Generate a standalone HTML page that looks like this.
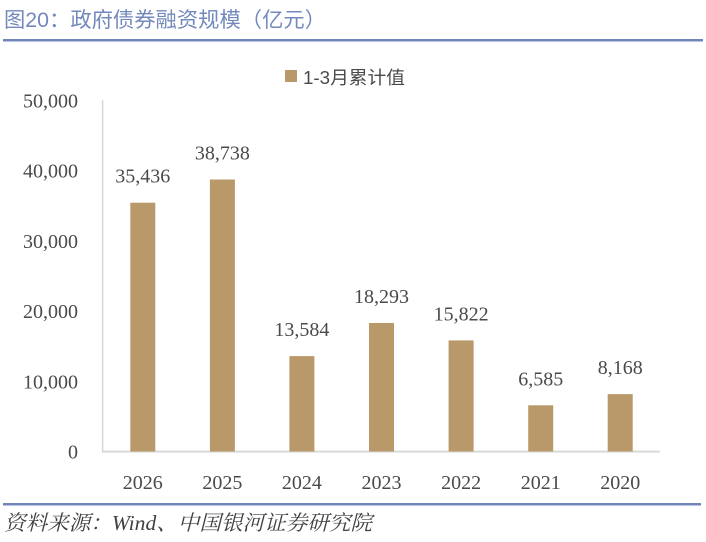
<!DOCTYPE html>
<html><head><meta charset="utf-8"><style>
html,body{margin:0;padding:0;background:#fff;}
svg{display:block;}
</style></head><body>
<svg width="706" height="542" viewBox="0 0 706 542" xmlns="http://www.w3.org/2000/svg">
<rect width="706" height="542" fill="#fff"/>
<text x="4" y="27" font-family="Liberation Sans, Noto Sans CJK SC, sans-serif" font-size="21" fill="#7389bd" textLength="322" lengthAdjust="spacingAndGlyphs">图20：政府债券融资规模（亿元）</text>
<rect x="3" y="39" width="700" height="2.5" fill="#7086bb"/>
<rect x="285" y="70" width="12" height="12" fill="#b9996a"/>
<text x="303" y="84" font-family="Liberation Sans, Noto Sans CJK SC, sans-serif" font-size="18" fill="#4a4a4a" textLength="102" lengthAdjust="spacingAndGlyphs">1-3月累计值</text>
<g font-family="Liberation Serif, serif" font-size="20" fill="#4a4a4a" text-anchor="end">
<text x="78" y="107.5">50,000</text>
<text x="78" y="177.7">40,000</text>
<text x="78" y="247.9">30,000</text>
<text x="78" y="318.1">20,000</text>
<text x="78" y="388.3">10,000</text>
<text x="78" y="458.5">0</text>
</g>
<rect x="101.8" y="100" width="1.6" height="352" fill="#d9d9d9"/>
<rect x="102" y="450.6" width="558" height="2" fill="#d9d9d9"/>
<g fill="#b9996a">
<rect x="130.3" y="202.7" width="25" height="248.8"/>
<rect x="209.9" y="179.5" width="25" height="272"/>
<rect x="289.4" y="356.1" width="25" height="95.4"/>
<rect x="369" y="323" width="25" height="128.5"/>
<rect x="448.6" y="340.4" width="25" height="111.1"/>
<rect x="528.2" y="405.3" width="25" height="46.2"/>
<rect x="607.7" y="394.1" width="25" height="57.4"/>
</g>
<g font-family="Liberation Serif, serif" font-size="20" fill="#4a4a4a" text-anchor="middle">
<text x="142.8" y="182.7">35,436</text>
<text x="222.4" y="159.5">38,738</text>
<text x="301.9" y="336.1">13,584</text>
<text x="381.5" y="303">18,293</text>
<text x="461.1" y="320.4">15,822</text>
<text x="540.7" y="385.3">6,585</text>
<text x="620.2" y="374.1">8,168</text>
</g>
<g font-family="Liberation Serif, serif" font-size="20" fill="#4a4a4a" text-anchor="middle">
<text x="142.8" y="489">2026</text>
<text x="222.4" y="489">2025</text>
<text x="301.9" y="489">2024</text>
<text x="381.5" y="489">2023</text>
<text x="461.1" y="489">2022</text>
<text x="540.7" y="489">2021</text>
<text x="620.2" y="489">2020</text>
</g>
<rect x="3" y="503" width="698" height="2.5" fill="#7086bb"/>
<text x="4" y="530" font-family="Liberation Serif, Noto Serif CJK SC, serif" font-style="italic" font-size="21" fill="#404040" textLength="368" lengthAdjust="spacingAndGlyphs">资料来源：Wind、中国银河证券研究院</text>
</svg>
</body></html>
